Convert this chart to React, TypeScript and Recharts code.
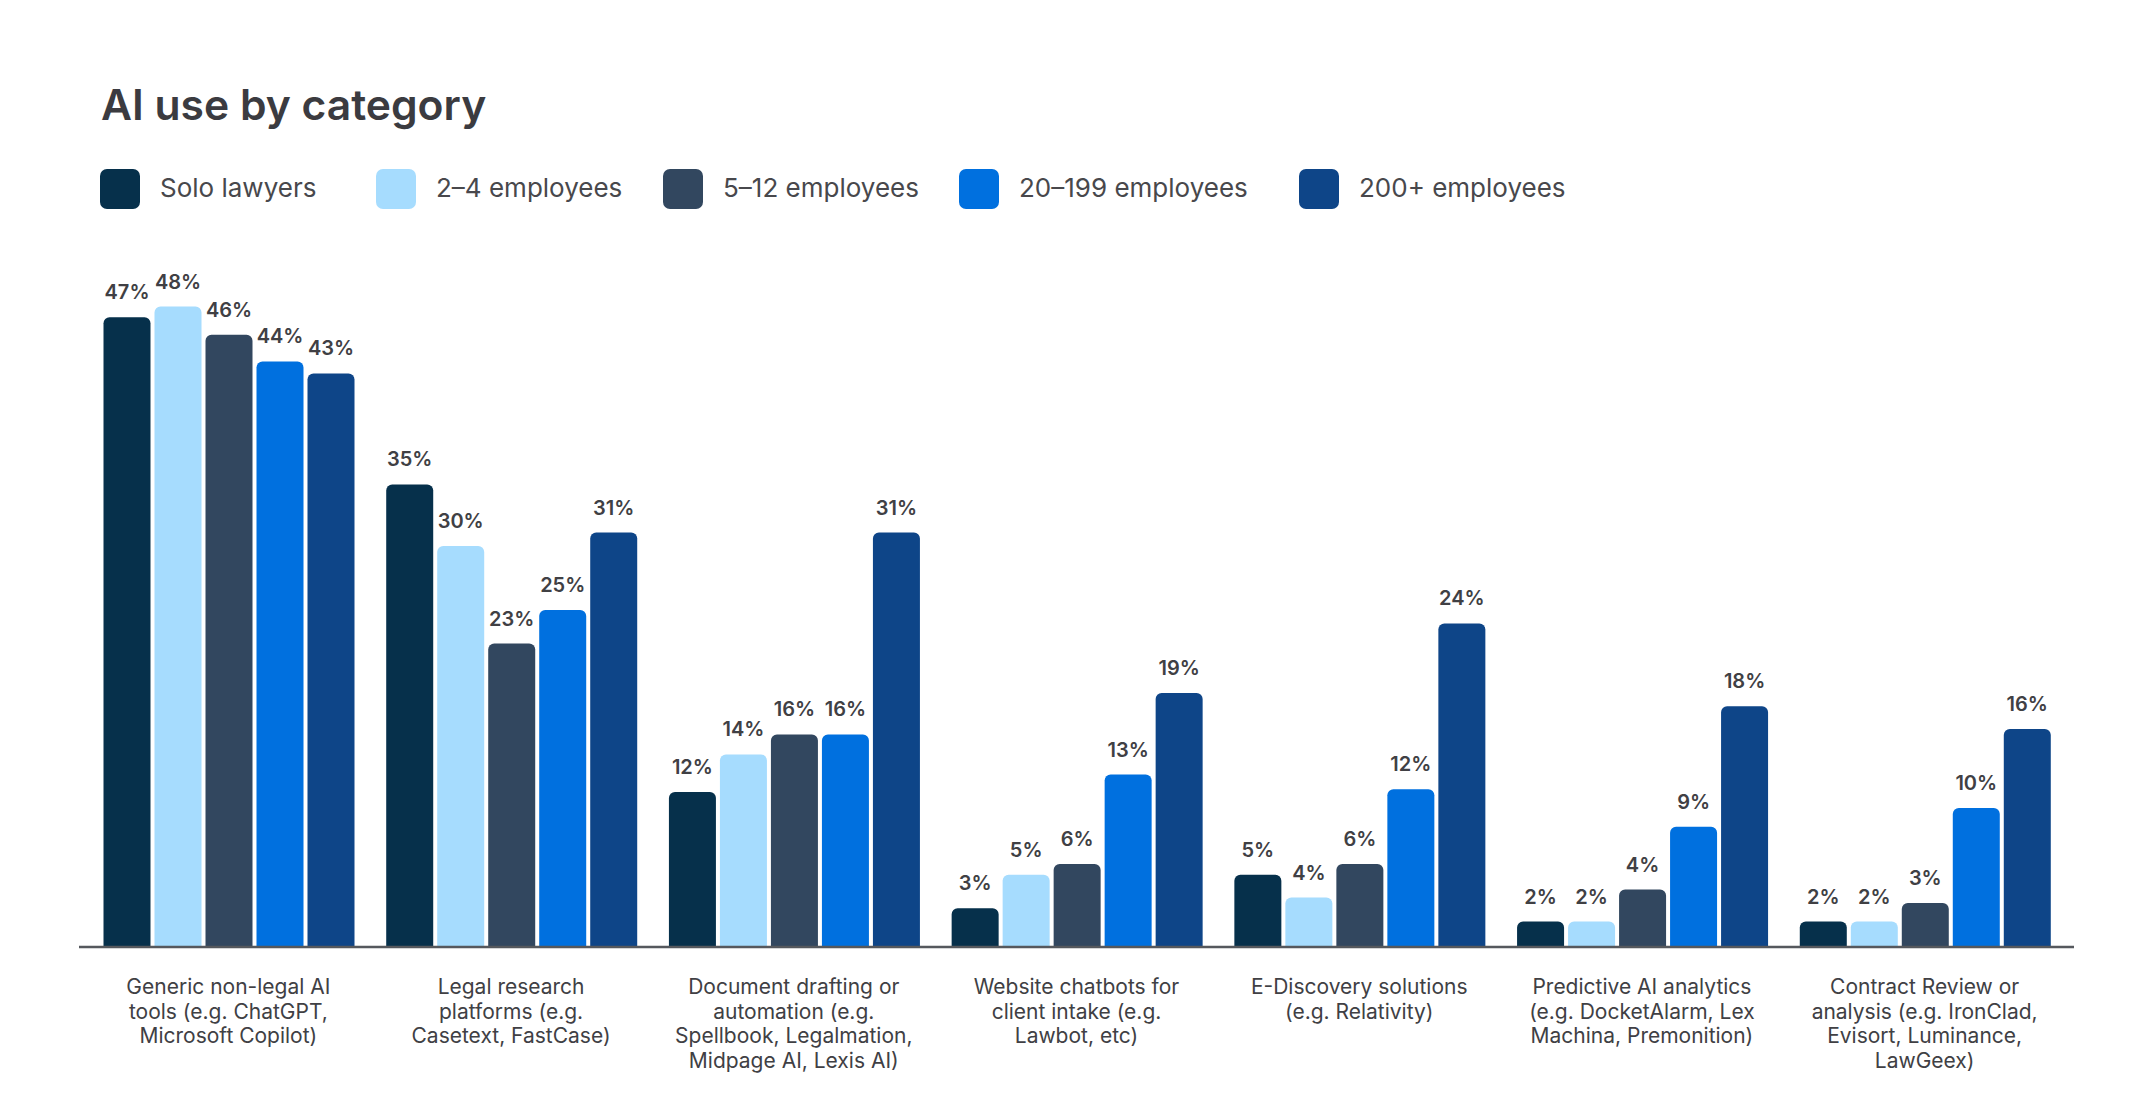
import React from "react";
import { BarChart, Bar, XAxis, YAxis, LabelList } from "recharts";

const categories = [
  "Generic non-legal AI\ntools (e.g. ChatGPT,\nMicrosoft Copilot)",
  "Legal research\nplatforms (e.g.\nCasetext, FastCase)",
  "Document drafting or\nautomation (e.g.\nSpellbook, Legalmation,\nMidpage AI, Lexis AI)",
  "Website chatbots for\nclient intake (e.g.\nLawbot, etc)",
  "E-Discovery solutions\n(e.g. Relativity)",
  "Predictive AI analytics\n(e.g. DocketAlarm, Lex\nMachina, Premonition)",
  "Contract Review or\nanalysis (e.g. IronClad,\nEvisort, Luminance,\nLawGeex)",
];

const seriesNames = [
  "Solo lawyers",
  "2–4 employees",
  "5–12 employees",
  "20–199 employees",
  "200+ employees",
];

// % of respondents (labels show them rounded)
const soloLawyers = [47.1, 34.6, 11.6, 2.9, 5.4, 1.9, 1.9];
const employees2to4 = [47.9, 30.0, 14.4, 5.4, 3.7, 1.9, 1.9];
const employees5to12 = [45.8, 22.7, 15.9, 6.2, 6.2, 4.3, 3.3];
const employees20to199 = [43.8, 25.2, 15.9, 12.9, 11.8, 9.0, 10.4];
const employees200plus = [42.9, 31.0, 31.0, 19.0, 24.2, 18.0, 16.3];

const series = [soloLawyers, employees2to4, employees5to12, employees20to199, employees200plus];

const COLORS = ["#06304b", "#a6dcfe", "#32475f", "#0070df", "#0e4588"];

const FONT = "Inter, 'Noto Sans', sans-serif";
const TEXT = "#404044";

const data = categories.map((name, i) => {
  const row: Record<string, string | number> = { name };
  series.forEach((s, k) => {
    row[`s${k}`] = s[i];
  });
  return row;
});

const LEGEND_X = [100, 376, 663, 959, 1299];

function CategoryTick({ x, y, payload }: any) {
  const lines = String(payload.value).split("\n");
  return (
    <text
      x={x}
      y={y + 47}
      textAnchor="middle"
      fill={TEXT}
      fontSize={21}
      fontFamily={FONT}
    >
      {lines.map((line, i) => (
        <tspan key={i} x={x} dy={i === 0 ? 0 : 24.6}>
          {line}
        </tspan>
      ))}
    </text>
  );
}

export default function App() {
  return (
    <div
      style={{
        position: "absolute",
        left: 0,
        top: 0,
        width: 2153,
        height: 1116,
        background: "#fff",
        fontFamily: FONT,
      }}
    >
      <svg
        width={2153}
        height={240}
        style={{ position: "absolute", left: 0, top: 0 }}
      >
        <text x={101} y={120} fontSize={42.6} fontWeight={600} fill="#3b3b40" fontFamily={FONT}>
          AI use by category
        </text>
        {seriesNames.map((name, i) => (
          <g key={name}>
            <rect x={LEGEND_X[i]} y={169} width={40} height={40} rx={7} fill={COLORS[i]} />
            <text x={LEGEND_X[i] + 60} y={197} fontSize={26} fill="#48484c" fontFamily={FONT}>
              {name}
            </text>
          </g>
        ))}
      </svg>
      <div style={{ position: "absolute", left: 0, top: 0 }}>
        <BarChart
          width={2153}
          height={1116}
          data={data}
          margin={{ top: 278.5, right: 79, bottom: 9, left: 79 }}
          barCategoryGap={16.5}
          barGap={4}
        >
          <YAxis hide domain={[0, 50]} />
          <XAxis
            dataKey="name"
            interval={0}
            height={160}
            tickLine={false}
            tickSize={0}
            tickMargin={0}
            padding={{ left: 8, right: 8 }}
            axisLine={{ stroke: "#55585d", strokeWidth: 2.5 }}
            tick={<CategoryTick />}
          />
          {seriesNames.map((name, k) => (
            <Bar
              key={name}
              dataKey={`s${k}`}
              name={name}
              fill={COLORS[k]}
              radius={[6, 6, 0, 0]}
              isAnimationActive={false}
            >
              <LabelList
                dataKey={`s${k}`}
                position="top"
                offset={18}
                formatter={(v: any) => `${Math.round(Number(v))}%`}
                fill={TEXT}
                fontSize={20}
                fontWeight={600}
                fontFamily={FONT}
              />
            </Bar>
          ))}
        </BarChart>
      </div>
    </div>
  );
}
